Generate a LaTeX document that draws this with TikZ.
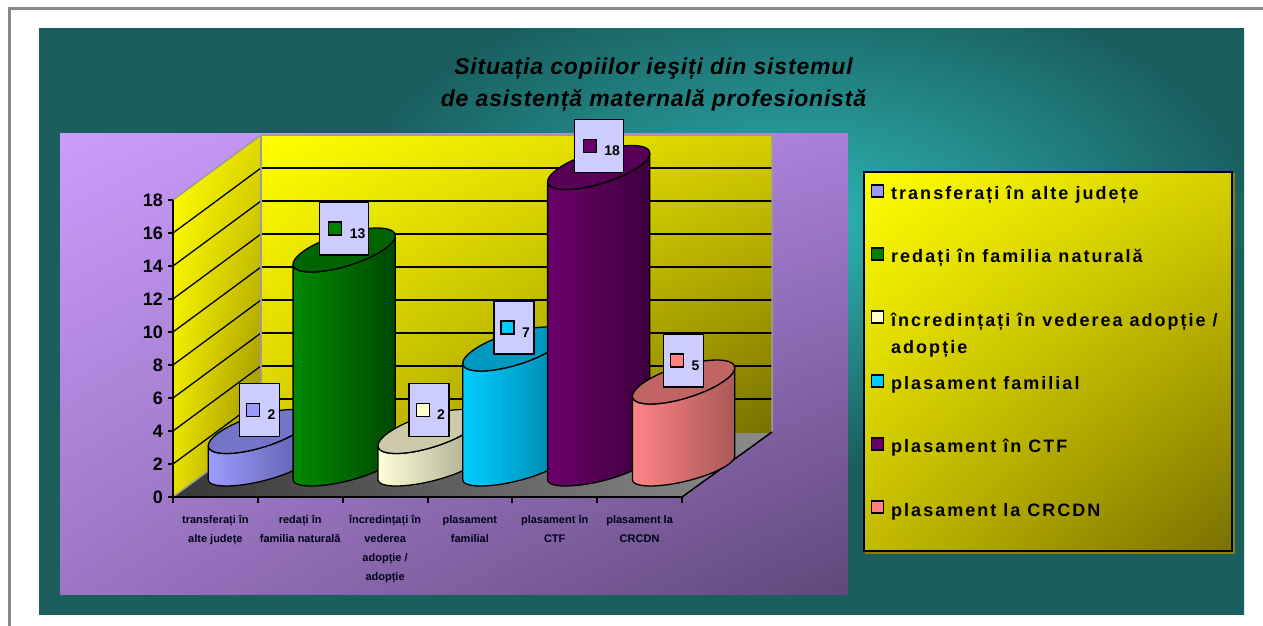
\documentclass[tikz,border=0pt]{standalone}
\usepackage{fontspec}
\setmainfont{Liberation Sans}
\newfontfamily\legendfont[LetterSpace=11.2]{Liberation Sans}
\newfontfamily\titlefont[LetterSpace=3.6]{Liberation Sans}
\usepackage{xcolor}
\usetikzlibrary{shadings}
\definecolor{tealbase}{HTML}{1A5E5E}
\definecolor{tealglow}{HTML}{2DB4B4}
\definecolor{framegray}{HTML}{888888}
\definecolor{walledge}{HTML}{9C9C9C}
\definecolor{boxfill}{HTML}{CCCCFF}
\definecolor{purpUL}{HTML}{CC9CFC}
\definecolor{purpUR}{HTML}{A880D8}
\definecolor{purpLL}{HTML}{9C76C4}
\definecolor{purpLR}{HTML}{60487A}
\definecolor{yelUL}{HTML}{FFFF00}
\definecolor{sideUR}{HTML}{E2DA00}
\definecolor{sideLL}{HTML}{E8E000}
\definecolor{sideLR}{HTML}{8C8000}
\definecolor{backUR}{HTML}{D6CE00}
\definecolor{backLL}{HTML}{D8D000}
\definecolor{backLR}{HTML}{787000}
\definecolor{legUR}{HTML}{D6D000}
\definecolor{legLL}{HTML}{C4BA00}
\definecolor{legLR}{HTML}{7A7000}
\definecolor{legshade}{HTML}{8C8000}
\definecolor{cTransf}{HTML}{9999FF}
\definecolor{cRedati}{HTML}{008000}
\definecolor{cIncred}{HTML}{FFFFCC}
\definecolor{cFamil}{HTML}{00CCFF}
\definecolor{cCTF}{HTML}{660066}
\definecolor{cCRCDN}{HTML}{FF8080}
\definecolor{transfL}{HTML}{9C9CFF}
\definecolor{transfR}{HTML}{5C5CA8}
\definecolor{transfT}{HTML}{7474C8}
\definecolor{redatiL}{HTML}{008A00}
\definecolor{redatiR}{HTML}{004800}
\definecolor{redatiT}{HTML}{006400}
\definecolor{incredL}{HTML}{FFFFD8}
\definecolor{incredR}{HTML}{A8A68C}
\definecolor{incredT}{HTML}{CCCAA8}
\definecolor{familL}{HTML}{00CEFF}
\definecolor{familR}{HTML}{0084A8}
\definecolor{familT}{HTML}{009AC0}
\definecolor{ctfL}{HTML}{6A006A}
\definecolor{ctfR}{HTML}{3E003E}
\definecolor{ctfT}{HTML}{580058}
\definecolor{crcdnL}{HTML}{FF8484}
\definecolor{crcdnR}{HTML}{A85858}
\definecolor{crcdnT}{HTML}{C06464}
\pgfdeclareradialshading{glowshade}{\pgfpoint{0bp}{0bp}}{color(0bp)=(tealglow); color(8.8bp)=(tealbase); color(50bp)=(tealbase)}

\tikzset{
  gridline/.style={black,line width=1.3pt},
  wallline/.style={walledge,line width=1.5pt},
  axisline/.style={black,line width=1.5pt},
  cylside/.style={draw=black,line width=1.3pt,line join=round},
  valbox/.style={draw=black,fill=boxfill,line width=1.3pt,minimum height=53pt,inner sep=0pt},
  valmark/.style={draw=black,line width=1.2pt,minimum size=13pt,inner sep=0pt},
  valnum/.style={font=\bfseries\fontsize{14}{16}\selectfont,inner sep=0pt},
  ylabel/.style={anchor=east,font=\bfseries\fontsize{18}{20}\selectfont,inner sep=0pt},
  catlabel/.style={anchor=north,align=center,inner sep=0pt,text=black!90!blue,
    font=\bfseries\fontsize{11}{19}\selectfont},
  legmark/.style={draw=black,line width=1.2pt,minimum size=12pt,inner sep=0pt},
  legtext/.style={anchor=base west,inner sep=0pt,font=\legendfont\bfseries\fontsize{18}{22}\selectfont},
  titletext/.style={anchor=base,inner sep=0pt,font=\titlefont\bfseries\itshape\fontsize{23}{29}\selectfont}
}

\begin{document}
\begin{tikzpicture}[x=1pt,y=-1pt]
\useasboundingbox (0,0) rectangle (1263,626);
\fill[white] (0,0) rectangle (1263,626);
\draw[framegray,line width=3pt] (9,640) -- (9,9) -- (1280,9);
\fill[tealbase] (39,29) rectangle (1244,614);
\begin{scope}
\clip (39,29) rectangle (1244,614);
\shade[shading=glowshade] (800,220) ellipse [x radius=1300pt, y radius=700pt];
\end{scope}
\shade[upper left=purpUL,upper right=purpUR,lower left=purpLL,lower right=purpLR] (60,133) rectangle (848,594);
\node[titletext] (title1) at (653.5,74.3) {Situația copiilor ieşiți din sistemul};
\node[titletext] (title2) at (653.5,106.7) {de asistență maternală profesionistă};
\shade[left color=black!78,right color=black!45] (173,497) -- (682,497) -- (772,432) -- (261,432) -- cycle;
\shade[upper left=yelUL,upper right=sideUR,lower left=sideLL,lower right=sideLR]
  (173,200) -- (261,135) -- (261,432) -- (173,497) -- cycle;
\shade[upper left=yelUL,upper right=backUR,lower left=backLL,lower right=backLR] (261,135) rectangle (772,432);
\draw[gridline] (261,399) -- (772,399);
\draw[gridline] (261,366) -- (772,366);
\draw[gridline] (261,333) -- (772,333);
\draw[gridline] (261,300) -- (772,300);
\draw[gridline] (261,267) -- (772,267);
\draw[gridline] (261,234) -- (772,234);
\draw[gridline] (261,201) -- (772,201);
\draw[gridline] (261,168) -- (772,168);
\draw[gridline] (173,464) -- (261,399);
\draw[gridline] (173,431) -- (261,366);
\draw[gridline] (173,398) -- (261,333);
\draw[gridline] (173,365) -- (261,300);
\draw[gridline] (173,332) -- (261,267);
\draw[gridline] (173,299) -- (261,234);
\draw[gridline] (173,266) -- (261,201);
\draw[gridline] (173,233) -- (261,168);
\draw[wallline] (173,200) -- (261,135) -- (772,135) -- (772,432);
\draw[wallline] (261,135) -- (261,432);
\draw[wallline] (173,497) -- (261,432);
\draw[axisline] (682,497) -- (772,432);
\draw[axisline] (173,200) -- (173,497) -- (682,497);
\draw[axisline] (168,497) -- (173,497);
\draw[axisline] (168,464) -- (173,464);
\draw[axisline] (168,431) -- (173,431);
\draw[axisline] (168,398) -- (173,398);
\draw[axisline] (168,365) -- (173,365);
\draw[axisline] (168,332) -- (173,332);
\draw[axisline] (168,299) -- (173,299);
\draw[axisline] (168,266) -- (173,266);
\draw[axisline] (168,233) -- (173,233);
\draw[axisline] (168,200) -- (173,200);
\draw[axisline] (173,497) -- (173,503);
\draw[axisline] (258,497) -- (258,503);
\draw[axisline] (343,497) -- (343,503);
\draw[axisline] (428,497) -- (428,503);
\draw[axisline] (512,497) -- (512,503);
\draw[axisline] (597,497) -- (597,503);
\draw[axisline] (682,497) -- (682,503);
\node[ylabel] (y0) at (163,497) {0};
\node[ylabel] (y2) at (163,464) {2};
\node[ylabel] (y4) at (163,431) {4};
\node[ylabel] (y6) at (163,398) {6};
\node[ylabel] (y8) at (163,365) {8};
\node[ylabel] (y10) at (163,332) {10};
\node[ylabel] (y12) at (163,299) {12};
\node[ylabel] (y14) at (163,266) {14};
\node[ylabel] (y16) at (163,233) {16};
\node[ylabel] (y18) at (163,200) {18};
\shadedraw[cylside,left color=transfL,right color=transfR]
  plot[domain=220.24:400.24,samples=40] ({259.4+39*cos(\x)+33*sin(\x)},{468-18*sin(\x)})
  -- plot[domain=40.24:-139.76,samples=40] ({259.4+39*cos(\x)+33*sin(\x)},{431.5-22*sin(\x)}) -- cycle;
\filldraw[cylside,fill=transfT]
  plot[domain=0:360,samples=60] ({259.4+39*cos(\x)+33*sin(\x)},{431.5-22*sin(\x)}) -- cycle;
\shadedraw[cylside,left color=redatiL,right color=redatiR]
  plot[domain=220.24:400.24,samples=40] ({344.2+39*cos(\x)+33*sin(\x)},{468-18*sin(\x)})
  -- plot[domain=40.24:-139.76,samples=40] ({344.2+39*cos(\x)+33*sin(\x)},{250-22*sin(\x)}) -- cycle;
\filldraw[cylside,fill=redatiT]
  plot[domain=0:360,samples=60] ({344.2+39*cos(\x)+33*sin(\x)},{250-22*sin(\x)}) -- cycle;
\shadedraw[cylside,left color=incredL,right color=incredR]
  plot[domain=220.24:400.24,samples=40] ({429.1+39*cos(\x)+33*sin(\x)},{468-18*sin(\x)})
  -- plot[domain=40.24:-139.76,samples=40] ({429.1+39*cos(\x)+33*sin(\x)},{431.5-22*sin(\x)}) -- cycle;
\filldraw[cylside,fill=incredT]
  plot[domain=0:360,samples=60] ({429.1+39*cos(\x)+33*sin(\x)},{431.5-22*sin(\x)}) -- cycle;
\shadedraw[cylside,left color=familL,right color=familR]
  plot[domain=220.24:400.24,samples=40] ({513.9+39*cos(\x)+33*sin(\x)},{468-18*sin(\x)})
  -- plot[domain=40.24:-139.76,samples=40] ({513.9+39*cos(\x)+33*sin(\x)},{349-22*sin(\x)}) -- cycle;
\filldraw[cylside,fill=familT]
  plot[domain=0:360,samples=60] ({513.9+39*cos(\x)+33*sin(\x)},{349-22*sin(\x)}) -- cycle;
\shadedraw[cylside,left color=ctfL,right color=ctfR]
  plot[domain=220.24:400.24,samples=40] ({598.7+39*cos(\x)+33*sin(\x)},{468-18*sin(\x)})
  -- plot[domain=40.24:-139.76,samples=40] ({598.7+39*cos(\x)+33*sin(\x)},{167.5-22*sin(\x)}) -- cycle;
\filldraw[cylside,fill=ctfT]
  plot[domain=0:360,samples=60] ({598.7+39*cos(\x)+33*sin(\x)},{167.5-22*sin(\x)}) -- cycle;
\shadedraw[cylside,left color=crcdnL,right color=crcdnR]
  plot[domain=220.24:400.24,samples=40] ({683.6+39*cos(\x)+33*sin(\x)},{468-18*sin(\x)})
  -- plot[domain=40.24:-139.76,samples=40] ({683.6+39*cos(\x)+33*sin(\x)},{382-22*sin(\x)}) -- cycle;
\filldraw[cylside,fill=crcdnT]
  plot[domain=0:360,samples=60] ({683.6+39*cos(\x)+33*sin(\x)},{382-22*sin(\x)}) -- cycle;
\node[valbox,minimum width=40pt] (val1) at (259.4,410) {};
\node[valmark,fill=cTransf] (mark1) at ([xshift=-6.5pt]val1.center) {};
\node[valnum] (num1) at ([xshift=12pt,yshift=-5pt]val1.center) {2};
\node[valbox,minimum width=49pt] (val2) at (344.2,228.5) {};
\node[valmark,fill=cRedati] (mark2) at ([xshift=-9pt]val2.center) {};
\node[valnum] (num2) at ([xshift=13.5pt,yshift=-5pt]val2.center) {13};
\node[valbox,minimum width=40pt] (val3) at (429.1,410) {};
\node[valmark,fill=cIncred] (mark3) at ([xshift=-6.5pt]val3.center) {};
\node[valnum] (num3) at ([xshift=12pt,yshift=-5pt]val3.center) {2};
\node[valbox,minimum width=40pt] (val4) at (513.9,327.5) {};
\node[valmark,fill=cFamil] (mark4) at ([xshift=-6.5pt]val4.center) {};
\node[valnum] (num4) at ([xshift=12pt,yshift=-5pt]val4.center) {7};
\node[valbox,minimum width=49pt] (val5) at (598.7,146) {};
\node[valmark,fill=cCTF] (mark5) at ([xshift=-9pt]val5.center) {};
\node[valnum] (num5) at ([xshift=13.5pt,yshift=-5pt]val5.center) {18};
\node[valbox,minimum width=40pt] (val6) at (683.6,360.5) {};
\node[valmark,fill=cCRCDN] (mark6) at ([xshift=-6.5pt]val6.center) {};
\node[valnum] (num6) at ([xshift=12pt,yshift=-5pt]val6.center) {5};
\node[catlabel] (cat1) at (215.4,515.3) {transferați în\\alte județe};
\node[catlabel] (cat2) at (300.2,515.3) {redați în\\familia naturală};
\node[catlabel] (cat3) at (385.1,515.3) {încredințați în\\vederea\\adopție /\\adopție};
\node[catlabel] (cat4) at (469.9,515.3) {plasament\\familial};
\node[catlabel] (cat5) at (554.7,515.3) {plasament în\\CTF};
\node[catlabel] (cat6) at (639.6,515.3) {plasament la\\CRCDN};
\draw[legshade,line width=1.2pt] (866,174) rectangle (1234,553);
\shade[upper left=yelUL,upper right=legUR,lower left=legLL,lower right=legLR] (864,172) rectangle (1232,551);
\draw[black,line width=2pt] (864,172) rectangle (1232,551);
\node[legmark,fill=cTransf] (lm1) at (877.5,191) {};
\node[legtext] (lt1) at (891,199) {transferați în alte județe};
\node[legmark,fill=cRedati] (lm2) at (877.5,254) {};
\node[legtext] (lt2) at (891,262) {redați în familia naturală};
\node[legmark,fill=cIncred] (lm3) at (877.5,317) {};
\node[legtext] (lt3) at (891,326) {încredințați în vederea adopție /};
\node[legtext] (lt3b) at (891,353) {adopție};
\node[legmark,fill=cFamil] (lm4) at (877.5,381) {};
\node[legtext] (lt4) at (891,389) {plasament familial};
\node[legmark,fill=cCTF] (lm5) at (877.5,444) {};
\node[legtext] (lt5) at (891,452) {plasament în CTF};
\node[legmark,fill=cCRCDN] (lm6) at (877.5,507) {};
\node[legtext] (lt6) at (891,516) {plasament la CRCDN};
\end{tikzpicture}
\end{document}
